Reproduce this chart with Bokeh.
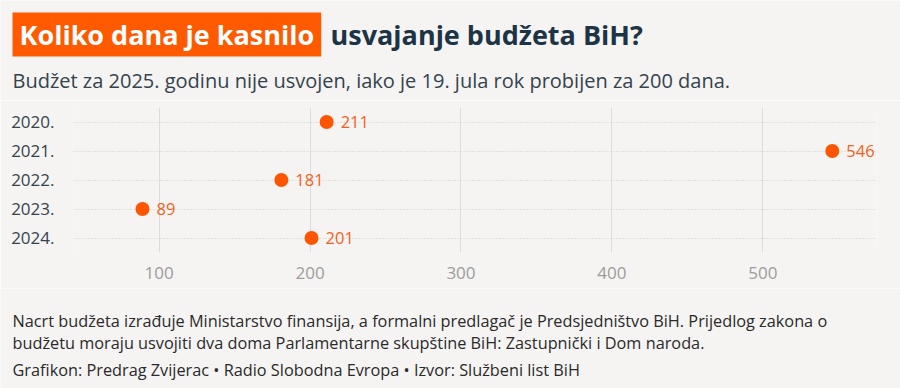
from bokeh.plotting import figure
from bokeh.models import ColumnDataSource, FactorRange, Label, FixedTicker, Range1d
from bokeh.layouts import column, row
from bokeh.core.properties import value
from bokeh.embed import file_html
from bokeh.resources import INLINE

# ---- data ----
years = ["2020.", "2021.", "2022.", "2023.", "2024."]
days_late = [211, 546, 181, 89, 201]
x_ticks = [100, 200, 300, 400, 500]

title_highlight = "Koliko dana je kasnilo"
title_rest = "usvajanje budžeta BiH?"
subtitle = "Budžet za 2025. godinu nije usvojen, iako je 19. jula rok probijen za 200 dana."
note_lines = [
    "Nacrt budžeta izrađuje Ministarstvo finansija, a formalni predlagač je Predsjedništvo BiH. Prijedlog zakona o",
    "budžetu moraju usvojiti dva doma Parlamentarne skupštine BiH: Zastupnički i Dom naroda.",
]
credit = "Grafikon: Predrag Zvijerac • Radio Slobodna Evropa • Izvor: Službeni list BiH"

# ---- style ----
BG = "#f5f4f2"
ORANGE = "#ff5500"
ORANGE_TXT = "#f2621c"
DARK = "#1d3447"
TEXT = "#34434e"
FONT = "Open Sans"
W = 900


def blank(height, top):
    """A text panel whose data coordinates equal page pixels."""
    f = figure(width=W, height=height, x_range=Range1d(0, W), y_range=Range1d(top + height, top),
               output_backend="svg", toolbar_location=None,
               background_fill_color=BG, border_fill_color=BG,
               min_border=0, min_border_left=0, min_border_right=0,
               min_border_top=0, min_border_bottom=0)
    f.axis.visible = False
    f.grid.visible = False
    f.outline_line_color = None
    return f


# ---- header ----
head = blank(100, 0)
head.add_layout(Label(x=12, y=34, text=title_highlight,
                      text_font=FONT, text_font_style="bold", text_font_size="27px",
                      text_color="white", text_baseline="middle", text_align="left",
                      background_fill_color="#ff5a00",
                      padding=dict(left=7, right=7, top=3, bottom=4)))
head.add_layout(Label(x=330, y=34, text=title_rest,
                      text_font=FONT, text_font_style="bold", text_font_size="27px",
                      text_color=DARK, text_baseline="middle", text_align="left"))
head.add_layout(Label(x=12, y=80, text=subtitle,
                      text_font=FONT, text_font_size="20px", text_color=TEXT,
                      text_baseline="middle", text_align="left"))

# ---- chart ----
source = ColumnDataSource(dict(year=years, days=days_late, label=[str(d) for d in days_late]))

p = figure(
    width=W, height=188,
    y_range=FactorRange(factors=list(reversed(years))),
    x_range=(43.3, 575.3),
    output_backend="svg", toolbar_location=None,
    background_fill_color=BG, border_fill_color=BG,
    min_border_left=73, min_border_right=24,
    min_border_top=7, min_border_bottom=36,
)
p.outline_line_color = None

p.xgrid.ticker = FixedTicker(ticks=x_ticks)
p.xgrid.grid_line_color = "#dcdcdc"
p.xgrid.grid_line_width = 1
p.ygrid.grid_line_color = "#cfcfcf"
p.ygrid.grid_line_dash = "1 2"
p.ygrid.grid_line_width = 1

p.xaxis.ticker = FixedTicker(ticks=x_ticks)
p.xaxis.axis_line_color = None
p.xaxis.major_tick_line_color = None
p.xaxis.minor_tick_line_color = None
p.xaxis.major_label_text_font = FONT
p.xaxis.major_label_text_font_size = "17px"
p.xaxis.major_label_text_color = "#9c9c9c"
p.xaxis.major_label_standoff = 8

p.yaxis.axis_line_color = None
p.yaxis.major_tick_line_color = None
p.yaxis.minor_tick_line_color = None
p.yaxis.major_label_text_font = FONT
p.yaxis.major_label_text_font_size = "17px"
p.yaxis.major_label_text_color = TEXT
p.yaxis.major_label_standoff = 13

p.scatter(x="days", y="year", source=source, size=14, fill_color=ORANGE, line_color=None)
p.text(x="days", y="year", text="label", source=source, x_offset=14,
       text_baseline="middle", text_align="left",
       text_font=value(FONT), text_font_size="16.5px", text_color=ORANGE_TXT)

# ---- footer ----
foot = blank(100, 288)
for i, line in enumerate(note_lines):
    foot.add_layout(Label(x=12, y=320 + 22 * i, text=line,
                          text_font=FONT, text_font_size="16.3px", text_color="#2a2a2a",
                          text_baseline="middle", text_align="left"))
foot.add_layout(Label(x=12, y=369, text=credit,
                      text_font=FONT, text_font_size="16.3px", text_color="#2a2a2a",
                      text_baseline="middle", text_align="left"))

layout = column(row(head), p, row(foot), spacing=0)
open("out.html", "w").write(file_html(layout, INLINE))
